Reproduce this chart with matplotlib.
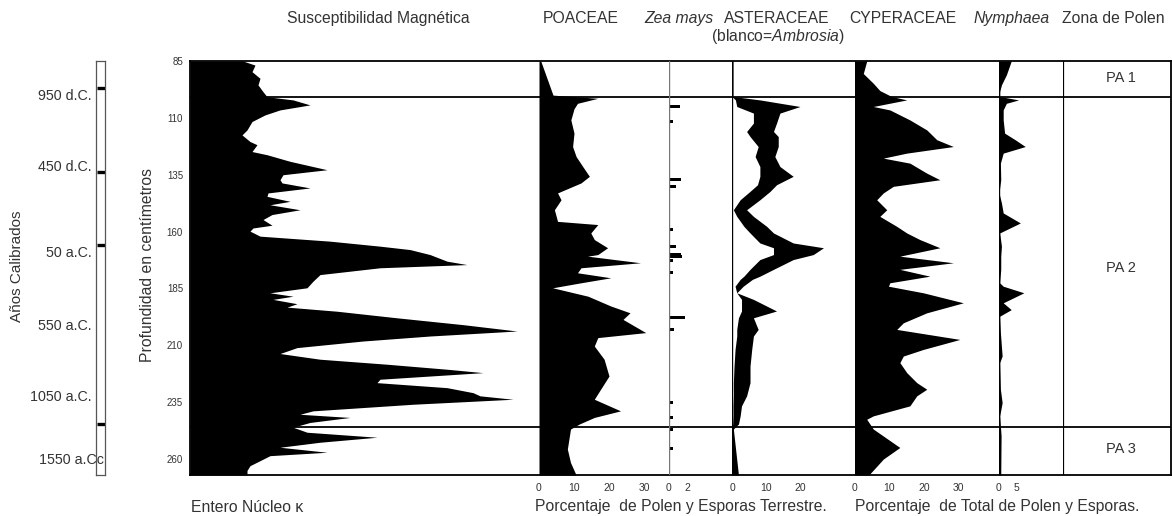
import matplotlib
matplotlib.use("Agg")
import matplotlib.pyplot as plt

plt.rcParams["font.family"] = ["Liberation Sans", "DejaVu Sans"]
plt.rcParams["mathtext.fontset"] = "custom"
plt.rcParams["mathtext.rm"] = "Liberation Sans"
plt.rcParams["mathtext.it"] = "Liberation Sans:italic"

TXT = "#333333"
W, H = 1172, 516

# ---- data (depth in cm) ----
sus_depth = [85, 86.8, 89.7, 92.6, 95.5, 98.5, 100.7, 102.1, 104.3, 106.5, 108.7, 111.6, 115.3, 117.5,
             120.4, 121.8, 124.8, 126.2, 129.1, 132.8, 135, 137.2, 138.6, 140.8, 143, 144.5, 146.7,
             148.2, 150.4, 152.5, 154.7, 157.2, 158.4, 159.8, 162, 164.2, 166.4, 167.9, 170.1, 173,
             174.5, 175.9, 178.9, 181.8, 184.7, 186.9, 188.4, 189.8, 191.7, 193.2, 195, 197.9, 200.9,
             203.7, 205.9, 208.1, 211, 213.6, 216.1, 218.3, 220.5, 222, 224.9, 226.4, 228.6, 230.8,
             232.2, 233.7, 235.9, 238.8, 240.3, 241.7, 243.9, 246, 248.2, 250.4, 252.6, 254.8, 257,
             258.5, 260.7, 262.9, 265, 267]
sus_kappa = [53, 65, 62, 70, 68, 73, 77, 103, 120, 90, 75, 62, 57, 52,
             60, 67, 62, 77, 100, 137, 93, 90, 92, 120, 78, 77, 100,
             80, 110, 82, 73, 82, 63, 60, 70, 140, 190, 220, 240, 257,
             277, 190, 130, 123, 117, 80, 103, 83, 107, 97, 147, 207, 273,
             327, 240, 173, 107, 90, 130, 197, 257, 293, 190, 187, 257, 283,
             290, 323, 223, 123, 110, 160, 120, 103, 117, 187, 130, 90, 137,
             80, 70, 60, 57, 57]

poa_depth = [85, 100, 101.4, 103.6, 106, 110.9, 116.7, 122.6, 127, 131.4, 135.7, 138.6, 143, 146,
             150.4, 155.5, 156.9, 160.6, 163.5, 167.1, 170.1, 170.8, 173.7, 175.9, 178.1, 180.3,
             182.5, 184.7, 188.4, 192.7, 195.7, 198.6, 204.4, 206.6, 210.3, 216.1, 223.5, 229.3,
             233.7, 238.8, 241.7, 244.6, 246.8, 255.6, 261.5, 267]
poa_pct = [0.5, 4, 16.8, 11, 10, 9.1, 10, 9.6, 10.6, 12.5, 14.4, 12, 5.3, 6.3,
           4.4, 5.3, 16.8, 14.8, 15.8, 19.6, 16.8, 13.9, 29, 12, 11, 20.5,
           12, 3.9, 14, 20.5, 26, 24, 30.5, 16.8, 15.8, 18.6, 20, 17.6,
           15.8, 23.3, 15.8, 11.5, 9, 8.1, 9, 10.6]

zea_depth = [105, 111.6, 137.2, 140.1, 159.1, 166.4, 170.1, 170.8, 172.7, 178.1, 197.9, 203,
             235.2, 241.7, 246.8, 255.3]
zea_pct = [1.2, 0.4, 1.3, 0.8, 0.4, 0.8, 1.3, 1.4, 0.4, 0.4, 1.8, 0.5,
           0.4, 0.4, 0.4, 0.4]

ast_depth = [85, 100.6, 102.1, 105, 107.9, 112.3, 116, 118.2, 122.6, 127, 131.4, 135.7, 139.4,
             142.3, 146, 150.4, 153.3, 157.7, 160.6, 165, 167.1, 170.1, 172.3, 176.6, 179.6,
             181, 184, 186.9, 189.8, 194.9, 197.9, 203, 205.9, 211.8, 219.1, 226.4, 232.2,
             236.6, 241, 244.6, 246.8, 267]
ast_total = [0.3, 0.3, 8.2, 20, 14.1, 13.1, 12.2, 13.6, 13.6, 12.6, 14.1, 18, 13.1,
             11.2, 8.2, 4.3, 6.3, 10.2, 12.2, 18, 26.9, 23.9, 18, 12.2, 8.2,
             6, 3.3, 1.4, 6.3, 13.1, 6.3, 7.7, 6.3, 5.8, 5.3, 5.3, 4.3,
             2.8, 2.4, 1.9, 0.4, 1.9]
ast_ambrosia = [0, 0, 1.0, 1.4, 6.3, 6.3, 4.3, 5.3, 7.7, 6.8, 8.2, 8.2, 7.5,
                5.3, 2.4, 0.4, 1.4, 3.5, 5.3, 8.2, 12.2, 12.2, 8.2, 5.3, 3.5,
                2.4, 0.9, 1.4, 2.8, 2.8, 1.9, 1.4, 1.4, 0.9, 0.6, 0.4, 0.4,
                0.3, 0.3, 0.2, 0, 0]

cyp_depth = [85, 90.5, 94.8, 98, 100.6, 102.1, 105, 106.5, 110.9, 115.3, 119.6, 122.6, 125.5,
             127.7, 129.9, 134.3, 137.2, 140.1, 143, 146, 150.4, 153.3, 157.7, 160.6, 163.5,
             167.1, 170.8, 173.7, 176.6, 179.6, 182.5, 184, 186.9, 191.3, 195.7, 200.1, 203,
             207.4, 211.8, 214.7, 217.6, 222, 226.4, 229.3, 232.2, 236.6, 241, 242.5, 246.8,
             254.9, 260, 267]
cyp_pct = [3.4, 2.4, 5.3, 7.2, 10.6, 15, 5.3, 10.1, 15.9, 20.8, 23.7, 28.5, 15,
           8.2, 15.9, 20.8, 24.6, 11.1, 8.2, 6.3, 9.2, 7.2, 12.1, 15, 18.8,
           24.6, 13, 28.5, 13, 21.7, 10.1, 9.7, 19.8, 31.4, 20.8, 14, 12.1,
           30.4, 19.8, 14, 13, 15, 17.9, 20.8, 17.9, 15.9, 5.3, 3.4, 5.3,
           13, 8.2, 4.0]

nym_depth = [85, 91.1, 95.5, 98.4, 100.6, 102.1, 103.6, 106.5, 110.9, 116.7, 119.6, 122.6,
             125.5, 129.9, 137.2, 143, 147.4, 151.8, 156.2, 160.6, 166.4, 170.8, 176.6, 182.5,
             184, 186.9, 191.3, 194.3, 197.2, 204.4, 214.7, 217.6, 229.3, 235.2, 241, 249.8, 267]
nym_pct = [3.5, 2.1, 0.7, 0.2, 0.2, 5.6, 2.1, 1.2, 1.2, 1.6, 4.6, 7.5,
           1.2, 0.4, 0.5, 0, 0.7, 1.2, 6.1, 0.2, 0.7, 0.5, 0.5, 0.2,
           1.2, 7.1, 1.2, 3.5, 0.2, 0.4, 0.9, 0.2, 0.4, 0.9, 0.2, 0.6, 0.5]

depth_ticks = [85, 110, 135, 160, 185, 210, 235, 260]
zone_bounds = [101, 246]
zone_names = ["PA 1", "PA 2", "PA 3"]
zone_mid = [92.5, 176, 255.5]

age_depth = [100.4, 131.5, 169.2, 201.5, 232.8, 260.5]
age_labels = ["950 d.C.", "450 d.C.", "50 a.C.", "550 a.C.", "1050 a.C.", "1550 a.Cc"]
age_marks = [96.8, 133.7, 166.1, 244.6]

D_TOP, D_BOT = 85, 267
Y_TOP, Y_BOT = 61, 475


def box(x0, x1, y0=Y_TOP, y1=Y_BOT):
    return [x0 / W, 1 - y1 / H, (x1 - x0) / W, (y1 - y0) / H]


def clean(ax, xlim):
    ax.set_xlim(*xlim)
    ax.set_ylim(D_BOT, D_TOP)
    ax.patch.set_alpha(0)
    for s in ax.spines.values():
        s.set_visible(False)
    ax.set_yticks([])
    ax.tick_params(axis="x", length=0, labelsize=7.5, labelcolor=TXT, pad=6)


fig = plt.figure(figsize=(W / 100, H / 100), dpi=100)

# frame
fr = fig.add_axes(box(190, 1171))
fr.set_xlim(0, 1)
fr.set_ylim(D_BOT, D_TOP)
fr.set_xticks([])
fr.set_yticks(depth_ticks)
fr.tick_params(axis="y", length=0, labelsize=7, labelcolor=TXT, pad=5)
for s in ["left", "right", "top", "bottom"]:
    fr.spines[s].set_linewidth(1.3)
for b in zone_bounds:
    fr.axhline(b, color="black", lw=1.3)
fig.text(148 / W, 1 - 265 / H, "Profundidad en centímetros", rotation=90, ha="center",
         va="center", fontsize=11.3, color=TXT)

# magnetic susceptibility
ax = fig.add_axes(box(190, 539))
clean(ax, (0, 349))
ax.fill_betweenx(sus_depth, 0, sus_kappa, color="black", lw=0)
ax.set_xticks([])

# poaceae
ax = fig.add_axes(box(539, 669))
clean(ax, (0, 130 / 3.5))
ax.fill_betweenx(poa_depth, 0, poa_pct, color="black", lw=0)
ax.set_xticks([0, 10, 20, 30])

# zea mays
ax = fig.add_axes(box(669, 732))
clean(ax, (0, 7))
ax.axvline(0, color="#777777", lw=1.0)
ax.barh(zea_depth, zea_pct, height=1.3, left=0, color="black")
ax.set_xticks([0, 2])

# asteraceae (white part = Ambrosia)
ax = fig.add_axes(box(732, 855))
clean(ax, (0, 123 / 3.4))
ax.axvline(0, color="black", lw=1.0)
ax.fill_betweenx(ast_depth, ast_ambrosia, ast_total, color="black", lw=0)
ax.set_xticks([0, 10, 20])

# cyperaceae
ax = fig.add_axes(box(855, 999))
clean(ax, (0, 144 / 3.45))
ax.fill_betweenx(cyp_depth, 0, cyp_pct, color="black", lw=0)
ax.axvline(0, color="black", lw=1.5)
ax.set_xticks([0, 10, 20, 30])

# nymphaea
ax = fig.add_axes(box(999, 1063))
clean(ax, (0, 64 / 3.5))
ax.fill_betweenx(nym_depth, 0, nym_pct, color="black", lw=0)
ax.axvline(0, color="black", lw=1.0)
ax.set_xticks([0, 5])

# pollen zones
ax = fig.add_axes(box(1063, 1171))
clean(ax, (0, 1))
ax.set_xticks([])
ax.axvline(0, color="black", lw=1.6)
for name, d in zip(zone_names, zone_mid):
    ax.text(0.54, d, name, ha="center", va="center", fontsize=10.5, color=TXT)

# calibrated age bar
ax = fig.add_axes(box(96, 105))
ax.set_xlim(0, 1)
ax.set_ylim(D_BOT, D_TOP)
ax.set_xticks([])
ax.set_yticks([])
for s in ax.spines.values():
    s.set_linewidth(0.9)
    s.set_color("#555555")
for d in age_marks:
    ax.plot([0.15, 1.0], [d, d], color="black", lw=2.4, solid_capstyle="butt")
for lab, d in zip(age_labels, age_depth):
    x = 0.9 if lab.endswith("c") else -0.45
    ax.text(x, d, lab, ha="right", va="center", fontsize=10.3, color=TXT)
fig.text(17 / W, 1 - 266 / H, "Años Calibrados", rotation=90, ha="center", va="center",
         fontsize=11, color=TXT)


# titles
def top(x, s, y=18.5, **kw):
    fig.text(x / W, 1 - y / H, s, ha="center", va="center", fontsize=11.3, color=TXT, **kw)


top(378, "Susceptibilidad Magnética")
top(581, "POACEAE")
top(679, "Zea mays", style="italic")
top(777, "ASTERACEAE")
top(778, r"(blanco=$\mathit{Ambrosia}$)", y=36.5)
top(903, "CYPERACEAE")
top(1012, "Nymphaea", style="italic")
top(1113, "Zona de Polen")

fig.text(191 / W, 1 - 507 / H, "Entero Núcleo κ", ha="left", va="center", fontsize=11.3, color=TXT)
fig.text(681 / W, 1 - 507 / H, "Porcentaje  de Polen y Esporas Terrestre.", ha="center",
         va="center", fontsize=11.3, color=TXT)
fig.text(997 / W, 1 - 507 / H, "Porcentaje  de Total de Polen y Esporas.", ha="center",
         va="center", fontsize=11.3, color=TXT)

fig.savefig("out.png", dpi=100)
